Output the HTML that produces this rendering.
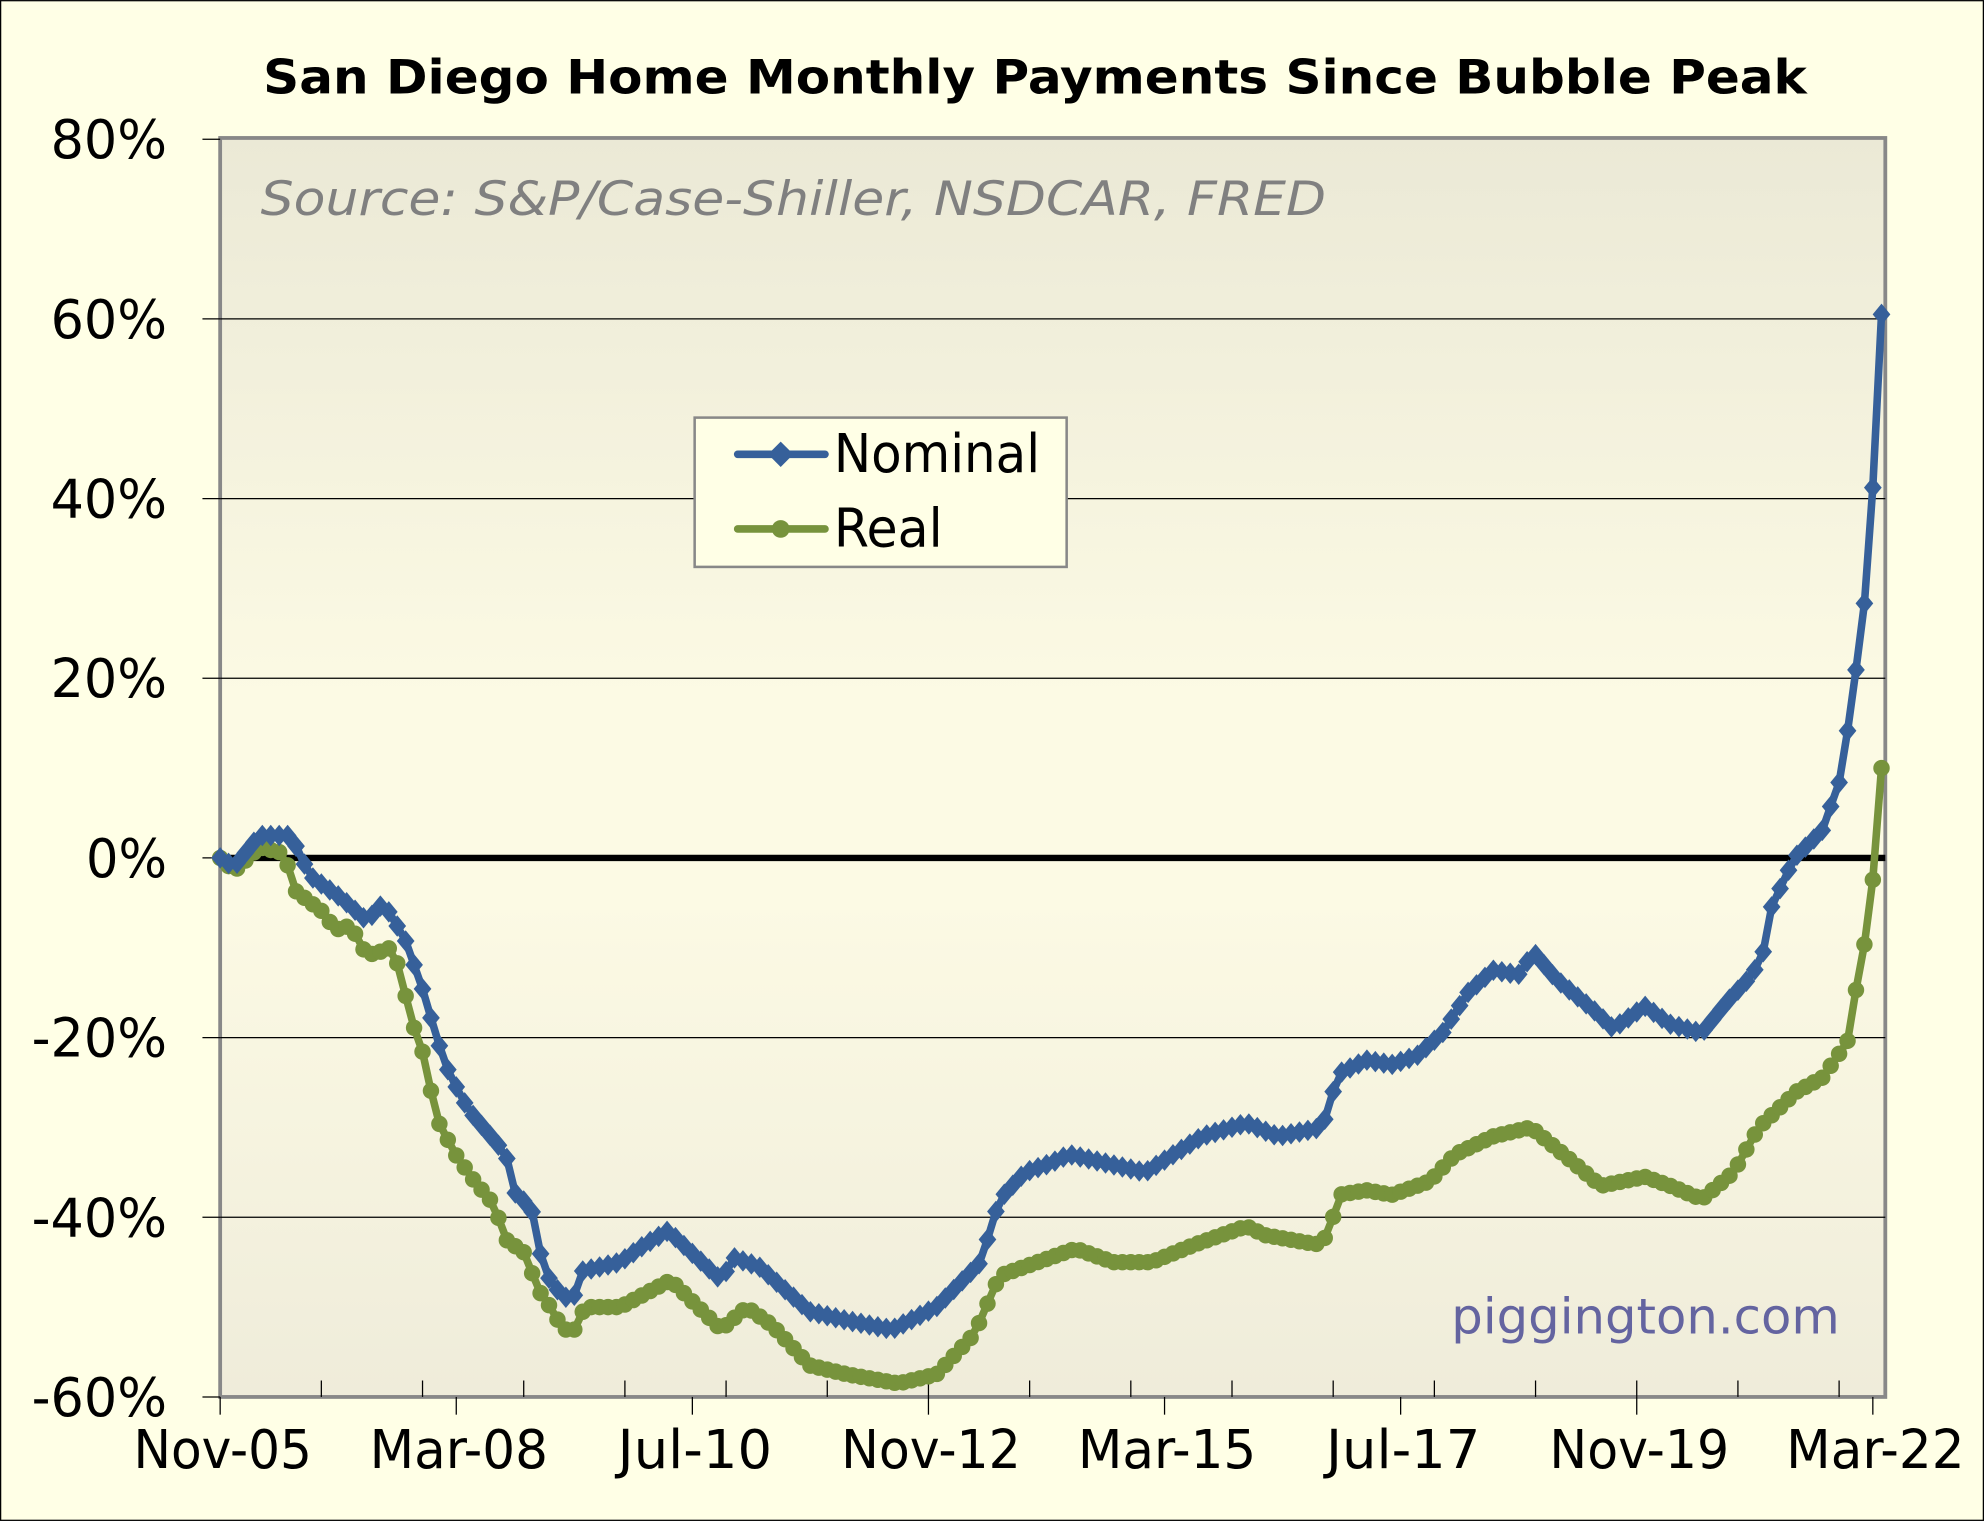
<!DOCTYPE html>
<html><head><meta charset="utf-8"><style>
html,body{margin:0;padding:0;background:#FFFFE6;}
svg{display:block;}
text{font-family:"DejaVu Sans","Liberation Sans",sans-serif;}
.c{font-family:"DejaVu Sans Condensed","DejaVu Sans",sans-serif;}
</style></head><body>
<svg id="s" width="1984" height="1521" viewBox="0 0 1568 1202" xmlns="http://www.w3.org/2000/svg">
<defs>
<linearGradient id="bg" x1="0" y1="0" x2="0" y2="1">
<stop offset="0" stop-color="#EBE9D6"/>
<stop offset="0.45" stop-color="#FCFAE4"/>
<stop offset="0.6" stop-color="#FCFAE4"/>
<stop offset="1" stop-color="#EFECDA"/>
</linearGradient>
</defs>
<rect x="0.5" y="0.5" width="1567" height="1201" fill="#FFFFE6" stroke="#000" stroke-width="1"/>
<text x="208" y="74" font-size="37" font-weight="bold" fill="#000" textLength="1220" lengthAdjust="spacingAndGlyphs">San Diego Home Monthly Payments Since Bubble Peak</text>
<rect x="174" y="109" width="1316" height="995" fill="url(#bg)" stroke="#888" stroke-width="3"/>
<g id="grid" stroke="#000" stroke-width="1"></g>
<g id="ticks" stroke="#000" stroke-width="1"></g>
<g id="labels" class="c" font-size="42" fill="#000"></g>
<text x="206" y="170" font-size="37" font-style="italic" fill="#808080" textLength="842" lengthAdjust="spacingAndGlyphs">Source: S&amp;P/Case-Shiller, NSDCAR, FRED</text>
<text x="1147" y="1054" font-size="39" fill="#6464A0" textLength="307" lengthAdjust="spacingAndGlyphs">piggington.com</text>
<line x1="174" y1="678" x2="1490" y2="678" stroke="#000" stroke-width="5"/>
<g id="series"></g>
<rect x="549" y="330" width="294" height="118" fill="#FFFFE6" stroke="#888" stroke-width="2"/>
<line x1="583" y1="359" x2="652" y2="359" stroke="#36609A" stroke-width="6" stroke-linecap="round"/>
<path d="M617 349 L627 359 L617 369 L607 359Z" fill="#36609A"/>
<text x="659" y="373" class="c" font-size="42" fill="#000" textLength="163" lengthAdjust="spacingAndGlyphs">Nominal</text>
<line x1="583" y1="418" x2="652" y2="418" stroke="#77933C" stroke-width="6" stroke-linecap="round"/>
<circle cx="617" cy="418" r="7" fill="#77933C"/>
<text x="659" y="432" class="c" font-size="42" fill="#000" textLength="86" lengthAdjust="spacingAndGlyphs">Real</text>
</svg>
<script>
var NS="http://www.w3.org/2000/svg";
function el(p,t,a){var e=document.createElementNS(NS,t);for(var k in a)e.setAttribute(k,a[k]);p.appendChild(e);return e;}
var grid=document.getElementById('grid'),ticks=document.getElementById('ticks'),labels=document.getElementById('labels');
function Y(v){return 678-v*7.1;}
for(var v=-60;v<=80;v+=20){var y=Y(v);
 if(v!=-60&&v!=80&&v!=0)el(grid,'line',{x1:174,y1:y,x2:1490,y2:y});
 el(ticks,'line',{x1:160,y1:y,x2:174,y2:y});
 var w=v<0?107:(v==0?64:92);
 var t=el(labels,'text',{x:132,y:y+15,'text-anchor':'end',textLength:w,lengthAdjust:'spacingAndGlyphs'});t.textContent=v+'%';}
function X(m){return 174+m*6.664;}
for(var m=12;m<=196;m+=12)el(ticks,'line',{x1:X(m),y1:1104,x2:X(m),y2:1091});
var lab=['Nov-05','Mar-08','Jul-10','Nov-12','Mar-15','Jul-17','Nov-19','Mar-22'];
var wid=[141,141,122,142,141,122,142,141];
for(var i=0;i<8;i++){var x=X(i*28);el(ticks,'line',{x1:x,y1:1104,x2:x,y2:1118});
 var t=el(labels,'text',{x:x+2-wid[i]/2,y:1160,textLength:wid[i],lengthAdjust:'spacingAndGlyphs'});t.textContent=lab[i];}
var nom=[[174,0],[185,-1],[205,2.5],[230,2.5],[245,-2],[270,-4.5],[290,-7],[303,-5],[320,-9],[335,-15],[345,-20],[355,-24],[370,-28],[385,-30.5],[400,-33],[405,-37],[420,-39],[430,-46],[440,-48],[452,-49.5],[460,-46],[490,-45],[510,-43],[528,-41.5],[570,-47],[580,-44.5],[600,-45.5],[640,-50.5],[670,-51.5],[705,-52.5],[740,-50],[775,-45],[790,-38],[810,-35],[830,-34],[845,-33],[890,-34.5],[905,-35],[950,-31],[985,-29.5],[1010,-31],[1045,-30],[1058,-24],[1080,-22.5],[1100,-23],[1120,-22],[1140,-19.5],[1160,-15],[1180,-12.5],[1200,-13],[1212,-10.5],[1230,-13.5],[1260,-17],[1275,-19],[1300,-16.5],[1320,-18.5],[1345,-19.5],[1365,-16],[1385,-13],[1395,-10],[1400,-5.5],[1418,0],[1440,3],[1455,9],[1465,19],[1473,27.5],[1479,38],[1487,60.5]];
var real=[[174,0],[185,-1.5],[205,1.2],[225,0.5],[232,-3.5],[255,-6],[265,-8],[278,-7.5],[285,-10],[298,-11],[305,-9.5],[315,-12],[325,-18],[335,-22],[345,-29],[360,-33],[375,-36],[390,-38.5],[400,-42.5],[415,-44],[425,-48],[435,-50],[445,-52.5],[455,-52.5],[462,-50],[490,-50],[530,-47],[570,-52.5],[590,-50],[610,-52],[640,-56.5],[670,-57.5],[710,-58.5],[740,-57.5],[770,-53],[790,-46.5],[820,-45],[850,-43.5],[880,-45],[910,-45],[945,-43],[985,-41],[1000,-42],[1040,-43],[1050,-42],[1058,-37.5],[1080,-37],[1100,-37.5],[1130,-36],[1150,-33],[1180,-31],[1210,-30],[1240,-33.5],[1265,-36.5],[1300,-35.5],[1320,-36.5],[1345,-38],[1370,-35],[1390,-30],[1420,-26],[1440,-24.5],[1460,-20.5],[1465,-16],[1472,-11],[1479,-4.5],[1487,10]];
function interp(k){var pts=[];for(var m=0;m<=197;m++){var x=X(m);if(m==197)x=1487;
 var v=k[k.length-1][1];for(var j=0;j<k.length-1;j++){if(x>=k[j][0]&&x<=k[j+1][0]){var f=(x-k[j][0])/(k[j+1][0]-k[j][0]);v=k[j][1]+f*(k[j+1][1]-k[j][1]);break;}}
 pts.push([x,Y(v)]);}return pts;}
var S=document.getElementById('series');
function draw(k,c,shape){var p=interp(k);
 el(S,'polyline',{points:p.map(function(a){return a[0].toFixed(1)+','+a[1].toFixed(1)}).join(' '),fill:'none',stroke:c,'stroke-width':6,'stroke-linejoin':'round'});
 p.forEach(function(a){if(shape=='d')el(S,'path',{d:'M'+a[0]+' '+(a[1]-8.5)+' L'+(a[0]+7)+' '+a[1]+' L'+a[0]+' '+(a[1]+8.5)+' L'+(a[0]-7)+' '+a[1]+'Z',fill:c});
 else el(S,'circle',{cx:a[0],cy:a[1],r:6.5,fill:c});});}
draw(real,'#77933C','c');
draw(nom,'#36609A','d');
</script>
</body></html>
